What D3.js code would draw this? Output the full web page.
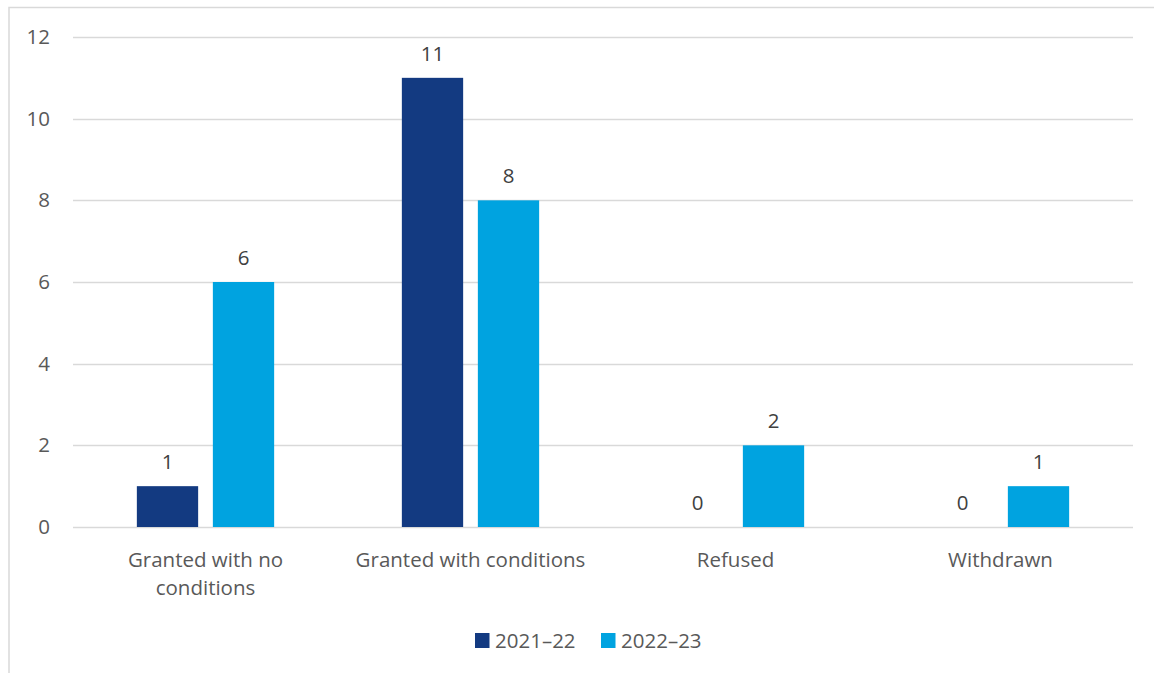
<!DOCTYPE html>
<html>
<head>
<meta charset="utf-8">
<script src="https://cdn.jsdelivr.net/npm/d3@7"></script>
<style>
  html, body { margin: 0; padding: 0; background: #fff; }
  svg { display: block; font-family: "Open Sans", sans-serif; }
</style>
</head>
<body>
<svg id="chart" width="1154" height="673"></svg>
<script>
// Outcomes by category, two reporting years
const categories = ["Granted with no conditions", "Granted with conditions", "Refused", "Withdrawn"];
const categoryLines = [["Granted with no", "conditions"], ["Granted with conditions"], ["Refused"], ["Withdrawn"]];
const seriesNames = ["2021\u201322", "2022\u201323"];
const values2021 = [1, 11, 0, 0];
const values2022 = [6, 8, 2, 1];
const yTicks = [0, 2, 4, 6, 8, 10, 12];

const colors = ["#133A81", "#00A3E0"];
const seriesValues = [values2021, values2022];

const FONT = "'Open Sans', sans-serif";
const FS = 20.5;

const svg = d3.select("#chart");
const W = 1154, H = 673;

// outer frame
svg.append("rect")
  .attr("x", 9).attr("y", 7.5)
  .attr("width", W + 10).attr("height", H + 10)
  .attr("fill", "none").attr("stroke", "#D9D9D9").attr("stroke-width", 1.5);

const plot = { left: 73, right: 1133, top: 37, bottom: 527 };

const x = d3.scaleBand().domain(categories).range([plot.left, plot.right]).paddingInner(0).paddingOuter(0);
const y = d3.scaleLinear().domain([0, 12]).range([plot.bottom, plot.top]);

const bw = x.bandwidth();
const barW = bw * 0.2313;
const gap = bw * 0.0555;
const groupW = barW * 2 + gap;
const sub = d3.scaleOrdinal().domain([0, 1]).range([(bw - groupW) / 2, (bw - groupW) / 2 + barW + gap]);

// gridlines
svg.append("g")
  .selectAll("line")
  .data(yTicks)
  .join("line")
  .attr("x1", plot.left).attr("x2", plot.right)
  .attr("y1", d => Math.round(y(d)) + 0.5).attr("y2", d => Math.round(y(d)) + 0.5)
  .attr("stroke", "#D9D9D9").attr("stroke-width", 1.5);

// y axis labels
const yAxis = d3.axisLeft(y).tickValues(yTicks).tickSize(0).tickPadding(0);
const yg = svg.append("g").attr("transform", `translate(50,0)`).call(yAxis);
yg.select(".domain").remove();
yg.selectAll("text")
  .attr("fill", "#595959").attr("font-size", FS).attr("font-family", FONT);

// bars
seriesValues.forEach((vals, si) => {
  svg.append("g")
    .selectAll("rect")
    .data(categories.map((c, i) => ({ c, v: vals[i] })))
    .join("rect")
    .attr("x", d => x(d.c) + sub(si))
    .attr("y", d => y(d.v))
    .attr("width", barW)
    .attr("height", d => y(0) - y(d.v))
    .attr("fill", colors[si]);

  // value labels
  svg.append("g")
    .selectAll("text")
    .data(categories.map((c, i) => ({ c, v: vals[i] })))
    .join("text")
    .attr("x", d => x(d.c) + sub(si) + barW / 2)
    .attr("y", d => y(d.v) - 17)
    .attr("text-anchor", "middle")
    .attr("fill", "#404040")
    .attr("font-size", FS)
    .text(d => d.v);
});

// category labels
const xg = svg.append("g");
categories.forEach((c, i) => {
  const t = xg.append("text")
    .attr("x", x(c) + bw / 2)
    .attr("y", 566.5)
    .attr("text-anchor", "middle")
    .attr("fill", "#595959")
    .attr("font-size", FS);
  categoryLines[i].forEach((line, li) => {
    t.append("tspan").attr("x", x(c) + bw / 2).attr("dy", li === 0 ? 0 : 28.5).text(line);
  });
});

// legend
const legendItems = [{ x: 475, name: seriesNames[0], color: colors[0] }, { x: 601, name: seriesNames[1], color: colors[1] }];
const lg = svg.append("g");
legendItems.forEach(it => {
  lg.append("rect").attr("x", it.x).attr("y", 633).attr("width", 14.5).attr("height", 15).attr("fill", it.color);
  lg.append("text").attr("x", it.x + 20).attr("y", 648).attr("fill", "#595959").attr("font-size", FS).text(it.name);
});
</script>
</body>
</html>
